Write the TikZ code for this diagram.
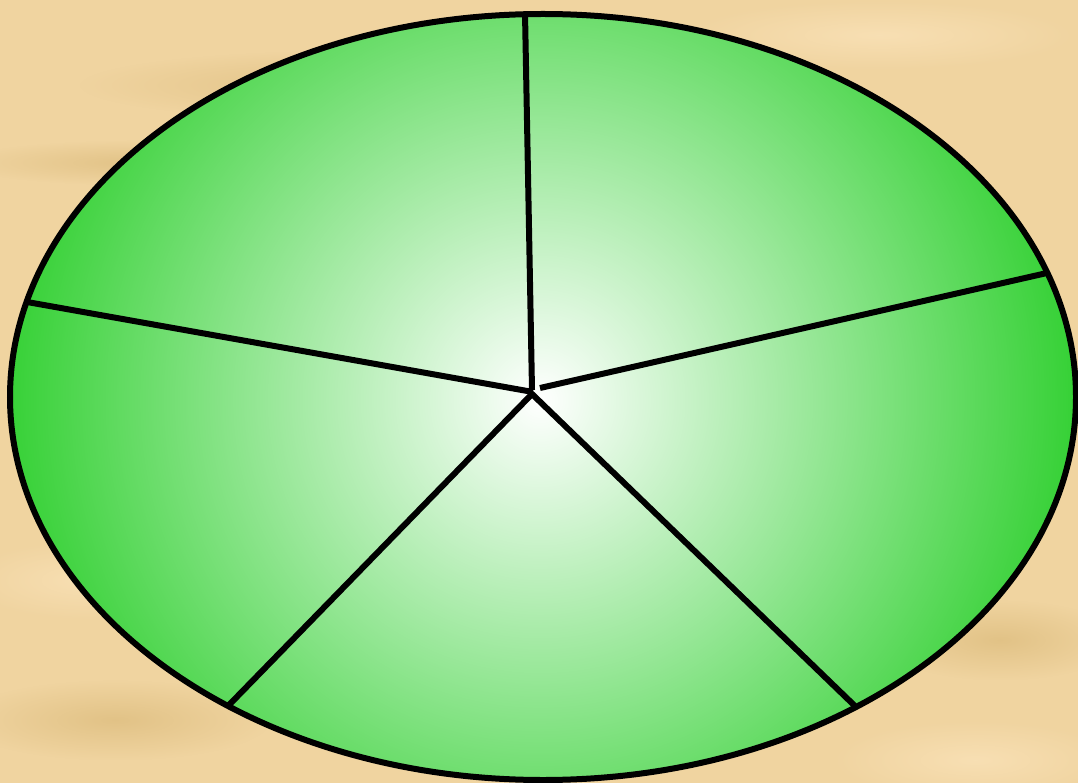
\documentclass[tikz,border=0pt]{standalone}
\usetikzlibrary{calc,fadings}
\definecolor{parch}{RGB}{240,212,160}
\definecolor{parchdark}{RGB}{222,190,128}
\definecolor{parchlight}{RGB}{250,226,184}
\definecolor{leafgreen}{RGB}{50,208,50}
\tikzfading[name=softedge, inner color=transparent!0, outer color=transparent!100]
\tikzset{
  spoke/.style={line width=6pt, black, line cap=butt},
  rim/.style={line width=6pt, black},
  streak/.style={path fading=softedge, opacity=0.8}
}
\begin{document}
\begin{tikzpicture}[x=1pt,y=-1pt]
\useasboundingbox (0,0) rectangle (1078,783);
% parchment background
\fill[parch] (0,0) rectangle (1078,783);
\fill[streak, parchdark] (80,50) rectangle (640,120);
\fill[streak, parchlight] (680,0) rectangle (1078,70);
\fill[streak, parchdark] (-40,140) rectangle (320,185);
\fill[streak, parchlight] (-40,540) rectangle (220,620);
\fill[streak, parchdark] (880,600) rectangle (1120,680);
\fill[streak, parchdark] (-40,680) rectangle (270,760);
\fill[streak, parchlight] (830,720) rectangle (1120,800);
% ellipse with circular radial gradient
\coordinate (c) at (543,397);
\coordinate (g) at (540,400);
\begin{scope}
  \clip (c) ellipse [x radius=533, y radius=383];
  \shade[inner color=white, outer color=leafgreen] (g) circle [radius=545];
\end{scope}
% spoke ends
\coordinate (t) at (525,13);
\coordinate (tc) at (532,390);
\coordinate (r) at (1047,273);
\coordinate (rc) at (540,388);
\coordinate (l) at (27,302);
\coordinate (lc) at (533,392);
\coordinate (bc) at (532,394);
\coordinate (bl) at (228,706);
\coordinate (br) at (856,707);
\draw[spoke] (t) -- (tc);
\draw[spoke] (r) -- (rc);
\draw[spoke] (l) -- (lc);
\draw[spoke] (bl) -- (bc) -- (br);
\draw[rim] (c) ellipse [x radius=533, y radius=383];
\end{tikzpicture}
\end{document}
